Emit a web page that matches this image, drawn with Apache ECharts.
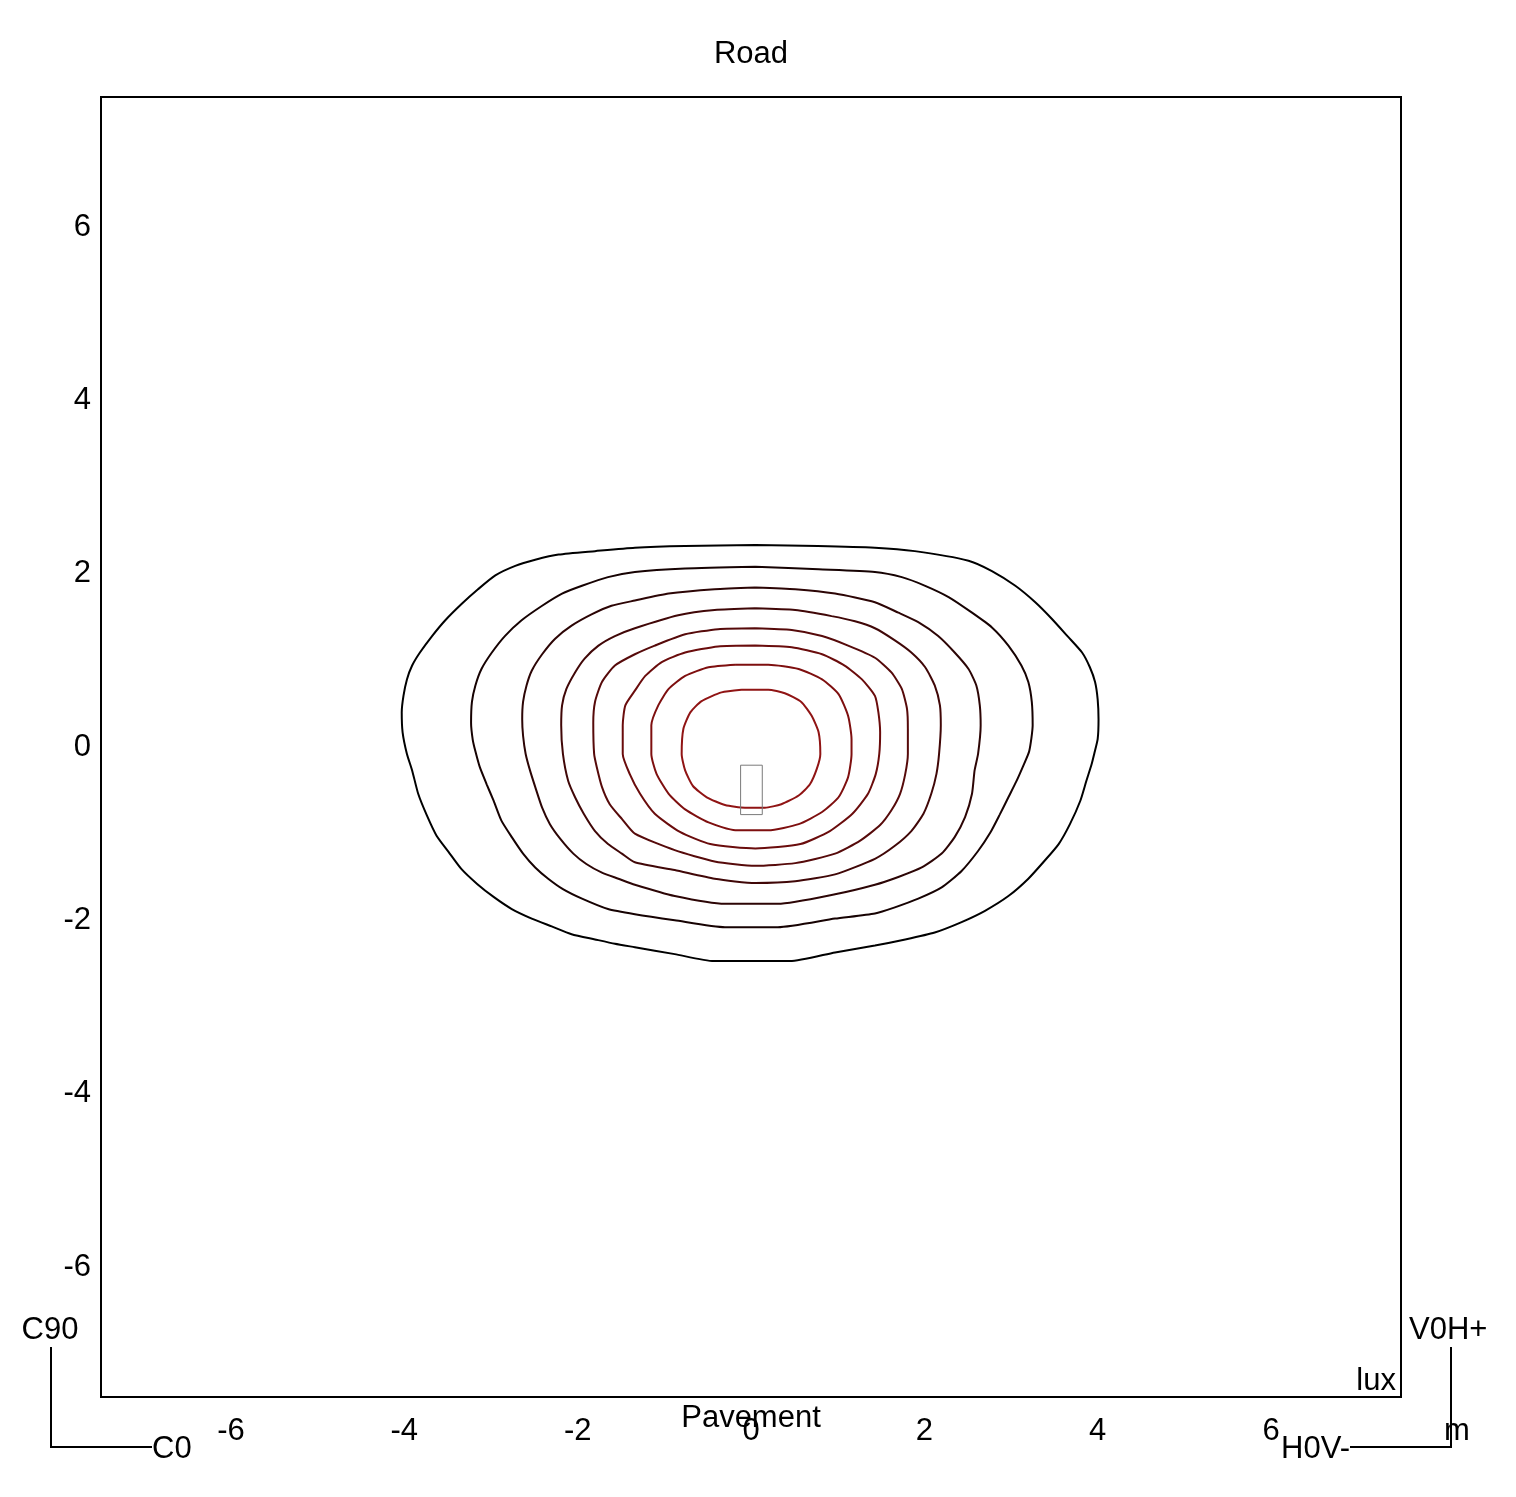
<!DOCTYPE html>
<html>
<head>
<meta charset="utf-8">
<script src="https://cdn.jsdelivr.net/npm/echarts@6/dist/echarts.min.js"></script>
<style>
html,body{margin:0;padding:0;background:#fff;}
#chart{width:1516px;height:1497px;}
</style>
</head>
<body>
<div id="chart"></div>
<script>
// ---- data (metres) ----
const xTicks = [-6, -4, -2, 0, 2, 4, 6];
const yTicks = [-6, -4, -2, 0, 2, 4, 6];

const contour1 = [[0.05,2.33],[0.77,2.32],[1.43,2.30],[1.89,2.26],[2.51,2.15],[2.78,2.03],[3.05,1.86],[3.28,1.67],[3.47,1.48],[3.66,1.27],[3.82,1.09],[3.91,0.92],[3.97,0.75],[4.00,0.55],[4.01,0.32],[4.00,0.09],[3.96,-0.08],[3.93,-0.20],[3.87,-0.39],[3.80,-0.62],[3.68,-0.89],[3.55,-1.12],[3.39,-1.31],[3.20,-1.52],[2.97,-1.72],[2.70,-1.89],[2.43,-2.02],[2.12,-2.14],[1.78,-2.22],[1.43,-2.29],[0.97,-2.37],[0.45,-2.47],[-0.43,-2.47],[-0.88,-2.39],[-1.34,-2.31],[-1.57,-2.27],[-1.80,-2.22],[-2.07,-2.16],[-2.30,-2.07],[-2.53,-1.98],[-2.76,-1.87],[-2.97,-1.73],[-3.16,-1.58],[-3.34,-1.41],[-3.49,-1.21],[-3.63,-1.02],[-3.74,-0.79],[-3.84,-0.54],[-3.91,-0.27],[-3.97,-0.08],[-4.02,0.17],[-4.03,0.40],[-4.01,0.59],[-3.97,0.78],[-3.91,0.94],[-3.82,1.09],[-3.68,1.28],[-3.53,1.46],[-3.34,1.65],[-3.15,1.82],[-2.95,1.98],[-2.72,2.09],[-2.49,2.16],[-2.22,2.22],[-1.80,2.26],[-1.34,2.30],[-0.76,2.32]];

const contour2 = [[0.05,2.08],[0.78,2.05],[1.43,2.02],[1.74,1.96],[2.01,1.86],[2.28,1.73],[2.55,1.55],[2.78,1.38],[2.97,1.17],[3.12,0.94],[3.20,0.75],[3.24,0.52],[3.25,0.25],[3.21,-0.05],[3.14,-0.22],[3.06,-0.40],[2.97,-0.58],[2.87,-0.78],[2.76,-0.99],[2.62,-1.20],[2.43,-1.43],[2.20,-1.62],[1.93,-1.75],[1.66,-1.85],[1.43,-1.92],[0.97,-1.98],[0.31,-2.08],[-0.30,-2.08],[-0.88,-2.00],[-1.34,-1.93],[-1.65,-1.87],[-1.95,-1.75],[-2.17,-1.64],[-2.34,-1.52],[-2.49,-1.39],[-2.63,-1.23],[-2.76,-1.04],[-2.88,-0.85],[-2.97,-0.62],[-3.05,-0.43],[-3.13,-0.23],[-3.18,-0.05],[-3.21,0.08],[-3.23,0.28],[-3.22,0.52],[-3.18,0.71],[-3.11,0.90],[-2.99,1.09],[-2.84,1.28],[-2.65,1.46],[-2.41,1.63],[-2.18,1.77],[-1.95,1.86],[-1.65,1.96],[-1.34,2.02],[-0.76,2.06]];

const contour3 = [[0.05,1.84],[0.51,1.82],[0.97,1.77],[1.43,1.67],[1.70,1.55],[1.93,1.44],[2.16,1.28],[2.35,1.09],[2.51,0.90],[2.60,0.71],[2.64,0.48],[2.65,0.25],[2.62,-0.08],[2.58,-0.27],[2.55,-0.54],[2.47,-0.81],[2.35,-1.04],[2.20,-1.23],[1.97,-1.39],[1.70,-1.50],[1.43,-1.59],[0.97,-1.70],[0.31,-1.81],[-0.30,-1.81],[-0.88,-1.72],[-1.34,-1.59],[-1.53,-1.52],[-1.72,-1.45],[-1.90,-1.35],[-2.05,-1.23],[-2.20,-1.06],[-2.32,-0.89],[-2.41,-0.70],[-2.49,-0.46],[-2.55,-0.27],[-2.60,-0.08],[-2.63,0.13],[-2.64,0.32],[-2.63,0.52],[-2.59,0.71],[-2.53,0.88],[-2.41,1.07],[-2.26,1.25],[-2.07,1.40],[-1.84,1.53],[-1.61,1.63],[-1.34,1.69],[-0.95,1.77],[-0.42,1.82]];

const contour4 = [[0.05,1.60],[0.51,1.58],[0.93,1.51],[1.20,1.45],[1.43,1.37],[1.66,1.23],[1.85,1.09],[2.01,0.92],[2.12,0.71],[2.18,0.48],[2.19,0.25],[2.17,-0.08],[2.14,-0.31],[2.08,-0.54],[1.99,-0.77],[1.85,-0.97],[1.66,-1.14],[1.43,-1.29],[0.97,-1.47],[0.51,-1.55],[0.05,-1.57],[-0.42,-1.52],[-0.88,-1.42],[-1.34,-1.33],[-1.49,-1.23],[-1.65,-1.12],[-1.80,-0.97],[-1.93,-0.77],[-2.03,-0.58],[-2.11,-0.39],[-2.17,-0.08],[-2.19,0.25],[-2.18,0.48],[-2.13,0.67],[-2.03,0.86],[-1.92,1.02],[-1.76,1.17],[-1.57,1.28],[-1.34,1.37],[-0.84,1.52],[-0.42,1.58]];

const contour5 = [[0.05,1.37],[0.47,1.35],[0.82,1.28],[1.12,1.17],[1.43,1.03],[1.62,0.86],[1.74,0.67],[1.80,0.44],[1.81,0.21],[1.81,-0.08],[1.78,-0.31],[1.72,-0.54],[1.62,-0.73],[1.49,-0.90],[1.26,-1.08],[0.97,-1.23],[0.51,-1.34],[0.05,-1.37],[-0.42,-1.32],[-0.88,-1.19],[-1.34,-1.00],[-1.49,-0.83],[-1.63,-0.66],[-1.72,-0.46],[-1.78,-0.23],[-1.81,-0.08],[-1.82,0.28],[-1.80,0.52],[-1.72,0.75],[-1.57,0.94],[-1.34,1.07],[-1.11,1.17],[-0.76,1.30],[-0.38,1.36]];

const contour6 = [[0.05,1.17],[0.47,1.15],[0.82,1.07],[1.08,0.94],[1.28,0.78],[1.43,0.59],[1.47,0.40],[1.49,0.17],[1.48,-0.08],[1.44,-0.31],[1.35,-0.54],[1.17,-0.77],[0.91,-0.97],[0.57,-1.12],[0.05,-1.17],[-0.47,-1.12],[-0.82,-0.98],[-1.11,-0.77],[-1.28,-0.54],[-1.40,-0.31],[-1.48,-0.08],[-1.48,0.25],[-1.45,0.48],[-1.34,0.65],[-1.22,0.82],[-1.03,0.98],[-0.76,1.09],[-0.38,1.16]];

const contour7 = [[-0.18,0.95],[0.20,0.95],[0.55,0.90],[0.82,0.78],[1.01,0.61],[1.12,0.36],[1.16,0.09],[1.16,-0.08],[1.12,-0.35],[1.01,-0.58],[0.82,-0.75],[0.55,-0.89],[0.20,-0.96],[-0.18,-0.96],[-0.49,-0.87],[-0.76,-0.72],[-0.95,-0.54],[-1.09,-0.31],[-1.15,-0.08],[-1.15,0.25],[-1.07,0.48],[-0.95,0.67],[-0.76,0.82],[-0.49,0.92]];

const contour8 = [[-0.11,0.66],[0.20,0.66],[0.39,0.62],[0.58,0.52],[0.70,0.36],[0.78,0.17],[0.80,-0.08],[0.76,-0.25],[0.68,-0.43],[0.55,-0.56],[0.35,-0.66],[0.16,-0.70],[-0.07,-0.70],[-0.30,-0.67],[-0.51,-0.58],[-0.67,-0.45],[-0.76,-0.27],[-0.80,-0.08],[-0.78,0.21],[-0.70,0.40],[-0.57,0.53],[-0.34,0.63]];

const luminaire = [[-0.12,-0.21],[0.13,-0.21],[0.13,-0.78],[-0.12,-0.78]];

const contours = [contour1, contour2, contour3, contour4, contour5, contour6, contour7, contour8];
const contourColors = ['#000000','#160202','#2c0505','#400707','#560a0a','#6a0c0c','#7e0f0f','#901414'];

// ---- chart ----
const FONT = 'Liberation Sans, Arial, sans-serif';
const FS = 31;
const close = a => a.concat([a[0]]);

const series = contours.map((c, i) => ({
  type: 'line',
  data: close(c),
  showSymbol: false,
  symbol: 'none',
  smooth: 0.2,
  lineStyle: { color: contourColors[i], width: 2 },
  silent: true,
  z: 3
}));
series.push({
  type: 'line',
  data: close(luminaire),
  showSymbol: false,
  symbol: 'none',
  lineStyle: { color: '#7a7a7a', width: 1 },
  silent: true,
  z: 4
});

const chart = echarts.init(document.getElementById('chart'), null, { renderer: 'canvas' });
chart.setOption({
  animation: false,
  backgroundColor: '#ffffff',
  textStyle: { fontFamily: FONT },
  grid: { left: 101, top: 97, width: 1300, height: 1300, show: true, borderColor: '#000', borderWidth: 2, backgroundColor: 'transparent' },
  xAxis: {
    type: 'value', min: -7.5, max: 7.5,
    axisLine: { show: false }, axisTick: { show: false }, splitLine: { show: false },
    axisLabel: { customValues: xTicks, margin: 19, color: '#000', fontSize: FS, fontFamily: FONT }
  },
  yAxis: {
    type: 'value', min: -7.5, max: 7.5,
    axisLine: { show: false }, axisTick: { show: false }, splitLine: { show: false },
    axisLabel: { customValues: yTicks, margin: 10, color: '#000', fontSize: FS, fontFamily: FONT, padding: [6, 0, 0, 0] }
  },
  series: series,
  graphic: [
    { type: 'text', x: 751, y: 54, style: { text: 'Road', fontSize: FS, fontFamily: FONT, fill: '#000', align: 'center', verticalAlign: 'middle' } },
    { type: 'text', x: 751, y: 1418, style: { text: 'Pavement', fontSize: FS, fontFamily: FONT, fill: '#000', align: 'center', verticalAlign: 'middle' } },
    { type: 'text', x: 1396, y: 1381, style: { text: 'lux', fontSize: FS, fontFamily: FONT, fill: '#000', align: 'right', verticalAlign: 'middle' } },
    { type: 'text', x: 50, y: 1330, style: { text: 'C90', fontSize: FS, fontFamily: FONT, fill: '#000', align: 'center', verticalAlign: 'middle' } },
    { type: 'text', x: 152, y: 1449, style: { text: 'C0', fontSize: FS, fontFamily: FONT, fill: '#000', align: 'left', verticalAlign: 'middle' } },
    { type: 'text', x: 1409, y: 1330, style: { text: 'V0H+', fontSize: FS, fontFamily: FONT, fill: '#000', align: 'left', verticalAlign: 'middle' } },
    { type: 'text', x: 1350, y: 1449, style: { text: 'H0V-', fontSize: FS, fontFamily: FONT, fill: '#000', align: 'right', verticalAlign: 'middle' } },
    { type: 'text', x: 1444, y: 1431, style: { text: 'm', fontSize: FS, fontFamily: FONT, fill: '#000', align: 'left', verticalAlign: 'middle' } },
    { type: 'polyline', shape: { points: [[51,1347],[51,1447],[152,1447]] }, style: { stroke: '#000', lineWidth: 2, fill: null } },
    { type: 'polyline', shape: { points: [[1451,1347],[1451,1447],[1350,1447]] }, style: { stroke: '#000', lineWidth: 2, fill: null } }
  ]
});
</script>
</body>
</html>
